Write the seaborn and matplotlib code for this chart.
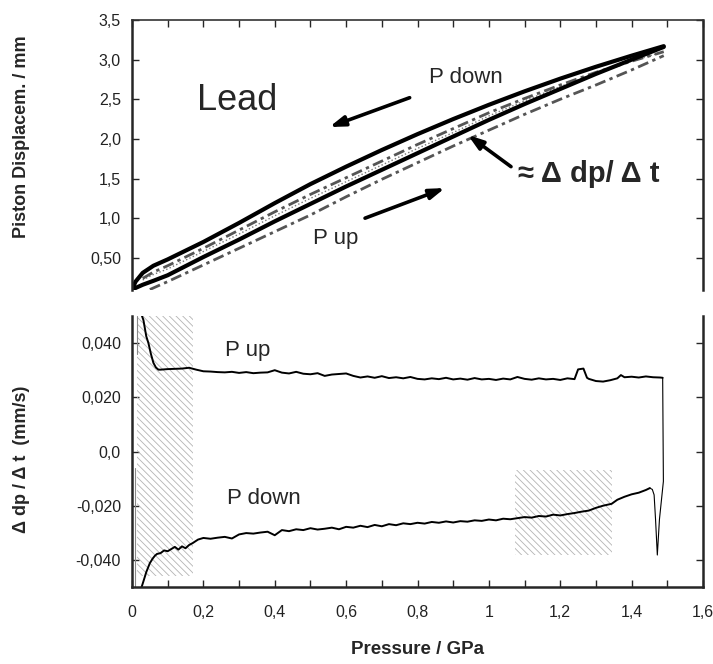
import matplotlib
matplotlib.use("Agg")
import matplotlib.pyplot as plt
import seaborn as sns

# ---- upper panel: piston displacement (mm) vs pressure (GPa) ----
loop_x = [0.0, 0.01, 0.03, 0.06, 0.1, 0.2, 0.3, 0.4, 0.5, 0.6, 0.7, 0.8, 0.9,
          1.0, 1.1, 1.2, 1.3, 1.4, 1.49]
disp_down = [0.10, 0.20, 0.31, 0.40, 0.48, 0.70, 0.94, 1.19, 1.43, 1.65, 1.86,
             2.06, 2.25, 2.43, 2.60, 2.76, 2.91, 3.05, 3.17]
disp_up = [0.09, 0.12, 0.16, 0.21, 0.28, 0.51, 0.73, 0.96, 1.18, 1.40, 1.61,
           1.82, 2.03, 2.24, 2.44, 2.63, 2.82, 3.00, 3.16]

ref_x = [0.03, 0.06, 0.1, 0.2, 0.3, 0.4, 0.5, 0.6, 0.7, 0.8, 0.9, 1.0, 1.1,
         1.2, 1.3, 1.4, 1.49]
ref_dashdot = [0.24, 0.32, 0.40, 0.62, 0.85, 1.08, 1.30, 1.51, 1.72, 1.93,
               2.13, 2.33, 2.51, 2.68, 2.84, 2.98, 3.10]
ref_dotted = [0.22, 0.29, 0.36, 0.58, 0.80, 1.03, 1.25, 1.46, 1.67, 1.88,
              2.08, 2.29, 2.48, 2.66, 2.83, 2.98, 3.10]

low_x = [0.05, 0.1, 0.2, 0.3, 0.4, 0.5, 0.6, 0.7, 0.8, 0.9, 1.0, 1.1, 1.2,
         1.3, 1.4, 1.49]
low_dashdot = [0.10, 0.20, 0.41, 0.62, 0.83, 1.04, 1.27, 1.49, 1.70, 1.91,
               2.11, 2.31, 2.50, 2.68, 2.87, 3.05]

# ---- lower panel: d(dp)/dt (mm/s) vs pressure ----
up_x = [0.028, 0.032, 0.040, 0.046, 0.053, 0.060, 0.067, 0.074,
        0.08, 0.10, 0.12, 0.14, 0.16, 0.18, 0.20, 0.22, 0.24, 0.26, 0.28, 0.30,
        0.32, 0.34, 0.36, 0.38, 0.40, 0.42, 0.44, 0.46, 0.48, 0.50,
        0.52, 0.54, 0.56, 0.58, 0.60, 0.62, 0.64, 0.66, 0.68, 0.70,
        0.72, 0.74, 0.76, 0.78, 0.80, 0.82, 0.84, 0.86, 0.88, 0.90,
        0.92, 0.94, 0.96, 0.98, 1.00, 1.02, 1.04, 1.06, 1.08, 1.10,
        1.12, 1.14, 1.16, 1.18, 1.20, 1.22, 1.24, 1.25, 1.265, 1.275,
        1.28, 1.30, 1.32, 1.34, 1.36, 1.37, 1.38, 1.40, 1.42, 1.44,
        1.46, 1.48, 1.487]
up_rate = [0.0500, 0.0485, 0.0425, 0.0400, 0.0360, 0.0327, 0.0310, 0.0302,
           0.0302, 0.0304, 0.0305, 0.0306, 0.0309, 0.0302, 0.0296, 0.0295, 0.0293, 0.0292, 0.0294, 0.0290,
           0.0293, 0.0289, 0.0291, 0.0292, 0.0300, 0.0291, 0.0288, 0.0294, 0.0287, 0.0285,
           0.0289, 0.0279, 0.0284, 0.0286, 0.0288, 0.0279, 0.0273, 0.0277, 0.0272, 0.0278,
           0.0271, 0.0274, 0.0270, 0.0275, 0.0268, 0.0266, 0.0270, 0.0267, 0.0272, 0.0266,
           0.0269, 0.0265, 0.0271, 0.0266, 0.0268, 0.0264, 0.0269, 0.0266, 0.0275, 0.0268,
           0.0265, 0.0270, 0.0266, 0.0268, 0.0264, 0.0270, 0.0267, 0.0303, 0.0306, 0.0272,
           0.0268, 0.0260, 0.0258, 0.0263, 0.0270, 0.0282, 0.0274, 0.0276, 0.0273, 0.0277,
           0.0274, 0.0273, 0.0272]

turn_x = [1.487, 1.489, 1.478, 1.472, 1.467, 1.463, 1.458, 1.451]
turn_rate = [0.0272, -0.0110, -0.0250, -0.0382, -0.0250, -0.0160, -0.0140, -0.0135]

down_x = [1.451, 1.44, 1.42, 1.40, 1.38, 1.36, 1.344,
          1.32, 1.30, 1.28, 1.26, 1.24, 1.22, 1.20, 1.18, 1.16, 1.14, 1.12, 1.10,
          1.08, 1.06, 1.04, 1.02, 1.00, 0.98, 0.96, 0.94, 0.92, 0.90,
          0.88, 0.86, 0.84, 0.82, 0.80, 0.78, 0.76, 0.74, 0.72, 0.70,
          0.68, 0.66, 0.64, 0.62, 0.60, 0.58, 0.56, 0.54, 0.52, 0.50,
          0.48, 0.46, 0.44, 0.42, 0.40, 0.38, 0.36, 0.34, 0.32, 0.30,
          0.28, 0.26, 0.24, 0.22, 0.20, 0.185, 0.17, 0.16, 0.15, 0.14,
          0.13, 0.12, 0.11, 0.10, 0.09, 0.08, 0.07, 0.064, 0.058, 0.05,
          0.04, 0.033, 0.027]
down_rate = [-0.0135, -0.0142, -0.0152, -0.0158, -0.0167, -0.0178, -0.0193,
             -0.0200, -0.0208, -0.0218, -0.0222, -0.0227, -0.0231, -0.0236, -0.0233, -0.0240, -0.0238, -0.0244, -0.0242,
             -0.0246, -0.0250, -0.0248, -0.0254, -0.0251, -0.0256, -0.0254, -0.0259, -0.0257, -0.0262,
             -0.0258, -0.0263, -0.0260, -0.0266, -0.0263, -0.0268, -0.0265, -0.0272, -0.0268, -0.0276,
             -0.0271, -0.0279, -0.0274, -0.0281, -0.0278, -0.0287, -0.0281, -0.0285, -0.0288, -0.0283,
             -0.0290, -0.0287, -0.0294, -0.0290, -0.0309, -0.0296, -0.0299, -0.0303, -0.0301, -0.0306,
             -0.0321, -0.0315, -0.0318, -0.0322, -0.0319, -0.0325, -0.0338, -0.0345, -0.0357, -0.0350,
             -0.0362, -0.0352, -0.0360, -0.0368, -0.0365, -0.0375, -0.0378, -0.0385, -0.0395, -0.0412,
             -0.0445, -0.0475, -0.0500]

# fast transients at the very start of each run
spike_x = [0.008, 0.008]
spike_rate = [-0.050, -0.006]
spike2_x = [0.014, 0.014]
spike2_rate = [0.036, 0.050]

# hatched (unreliable) ranges
shade_x = [(0.013, 0.172), (1.073, 1.344)]
shade_y = [(-0.046, 0.050), (-0.0382, -0.0070)]

disp_ticks = [0.5, 1.0, 1.5, 2.0, 2.5, 3.0, 3.5]
disp_labels = ["0,50", "1,0", "1,5", "2,0", "2,5", "3,0", "3,5"]
rate_ticks = [-0.04, -0.02, 0.0, 0.02, 0.04]
rate_labels = ["-0,040", "-0,020", "0,0", "0,020", "0,040"]
p_ticks = [0, 0.2, 0.4, 0.6, 0.8, 1.0, 1.2, 1.4, 1.6]
p_labels = ["0", "0,2", "0,4", "0,6", "0,8", "1", "1,2", "1,4", "1,6"]
p_minor = [0.1, 0.3, 0.5, 0.7, 0.9, 1.1, 1.3, 1.5]

sns.set_style("ticks")
plt.rcParams['font.family'] = ['Liberation Sans', 'DejaVu Sans']
plt.rcParams['hatch.linewidth'] = 0.6

fig = plt.figure(figsize=(7.13, 6.64), dpi=100)
ax1 = fig.add_axes([132/713, 1-290/664, 571/713, 270/664])
ax2 = fig.add_axes([132/713, 1-587/664, 571/713, 271/664])

dashdot = (0, (4, 1.6, 1.2, 1.6))
sns.lineplot(x=low_x, y=low_dashdot, ax=ax1, color='#555555', lw=2.0,
             linestyle=dashdot, sort=False, estimator=None)
sns.lineplot(x=ref_x, y=ref_dotted, ax=ax1, color='#777777', lw=1.0,
             linestyle=':', sort=False, estimator=None)
sns.lineplot(x=ref_x, y=ref_dashdot, ax=ax1, color='#555555', lw=2.0,
             linestyle=dashdot, sort=False, estimator=None)
sns.lineplot(x=loop_x, y=disp_down, ax=ax1, color='black', lw=3.0,
             sort=False, estimator=None)
sns.lineplot(x=loop_x, y=disp_up, ax=ax1, color='black', lw=3.0,
             sort=False, estimator=None)

ax1.set_xlim(0, 1.6)
ax1.set_ylim(0.094, 3.5)
ax1.set_yticks(disp_ticks)
ax1.set_yticklabels(disp_labels)
ax1.set_xticks([0.1 * i for i in range(17)])
ax1.tick_params(direction='in', left=True, right=True, top=True, bottom=False,
                labelbottom=False, length=5, width=1, pad=8,
                labelsize=11.5, labelcolor='#222222')
ax1.spines['bottom'].set_visible(False)
for s in ['left', 'right']:
    ax1.spines[s].set_linewidth(1.8)
ax1.spines['top'].set_linewidth(1.2)
ax1.spines['top'].set_color('#333333')
ax1.set_ylabel("Piston Displacem. / mm", fontsize=13, fontweight='bold')
ax1.yaxis.set_label_coords(-0.178, 0.567)

arrow = dict(arrowstyle='-|>,head_length=0.9,head_width=0.3', lw=2.6,
             color='black', shrinkA=0, shrinkB=0)
ax1.text(0.182, 2.49, "Lead", fontsize=26, va='center', ha='left')
ax1.text(0.832, 2.78, "P down", fontsize=16, va='center', ha='left')
ax1.annotate('', xy=(0.553, 2.15), xytext=(0.778, 2.52), arrowprops=arrow)
ax1.text(0.506, 0.74, "P up", fontsize=16, va='center', ha='left')
ax1.annotate('', xy=(0.877, 1.38), xytext=(0.653, 1.00), arrowprops=arrow)
ax1.text(1.083, 1.56, "≈ Δ dp/ Δ t", fontsize=21, fontweight='bold',
         va='center', ha='left')
ax1.annotate('', xy=(0.941, 2.05), xytext=(1.062, 1.65), arrowprops=arrow)

# lower panel
for (x0, x1), (y0, y1) in zip(shade_x, shade_y):
    ax2.fill_between([x0, x1], y0, y1, facecolor='none', edgecolor='#b4b4b4',
                     hatch='\\\\\\\\\\', linewidth=0)

sns.lineplot(x=spike_x, y=spike_rate, ax=ax2, color='#888888', lw=0.8,
             sort=False, estimator=None)
sns.lineplot(x=spike2_x, y=spike2_rate, ax=ax2, color='#888888', lw=0.8,
             sort=False, estimator=None)
sns.lineplot(x=up_x, y=up_rate, ax=ax2, color='black', lw=1.4,
             sort=False, estimator=None)
sns.lineplot(x=turn_x, y=turn_rate, ax=ax2, color='black', lw=0.8,
             sort=False, estimator=None)
sns.lineplot(x=down_x, y=down_rate, ax=ax2, color='black', lw=1.4,
             sort=False, estimator=None)

ax2.set_xlim(0, 1.6)
ax2.set_ylim(-0.05, 0.05)
ax2.set_yticks(rate_ticks)
ax2.set_yticklabels(rate_labels)
ax2.set_xticks(p_ticks)
ax2.set_xticklabels(p_labels)
ax2.set_xticks(p_minor, minor=True)
ax2.tick_params(which='both', direction='in', left=True, right=True, top=False,
                bottom=True, length=5, width=1, labelsize=11.5,
                labelcolor='#222222')
ax2.tick_params(axis='y', pad=8)
ax2.tick_params(axis='x', pad=13)
ax2.spines['top'].set_visible(False)
for s in ['left', 'right', 'bottom']:
    ax2.spines[s].set_linewidth(1.8)
ax2.text(0.26, 0.0372, "P up", fontsize=16, va='center', ha='left')
ax2.text(0.265, -0.0172, "P down", fontsize=16, va='center', ha='left')
ax2.set_ylabel("Δ dp / Δ t  (mm/s)", fontsize=13, fontweight='bold')
ax2.yaxis.set_label_coords(-0.178, 0.47)
ax2.set_xlabel("Pressure / GPa", fontsize=13.5, fontweight='bold', labelpad=15)

fig.savefig("out.png", dpi=100)
